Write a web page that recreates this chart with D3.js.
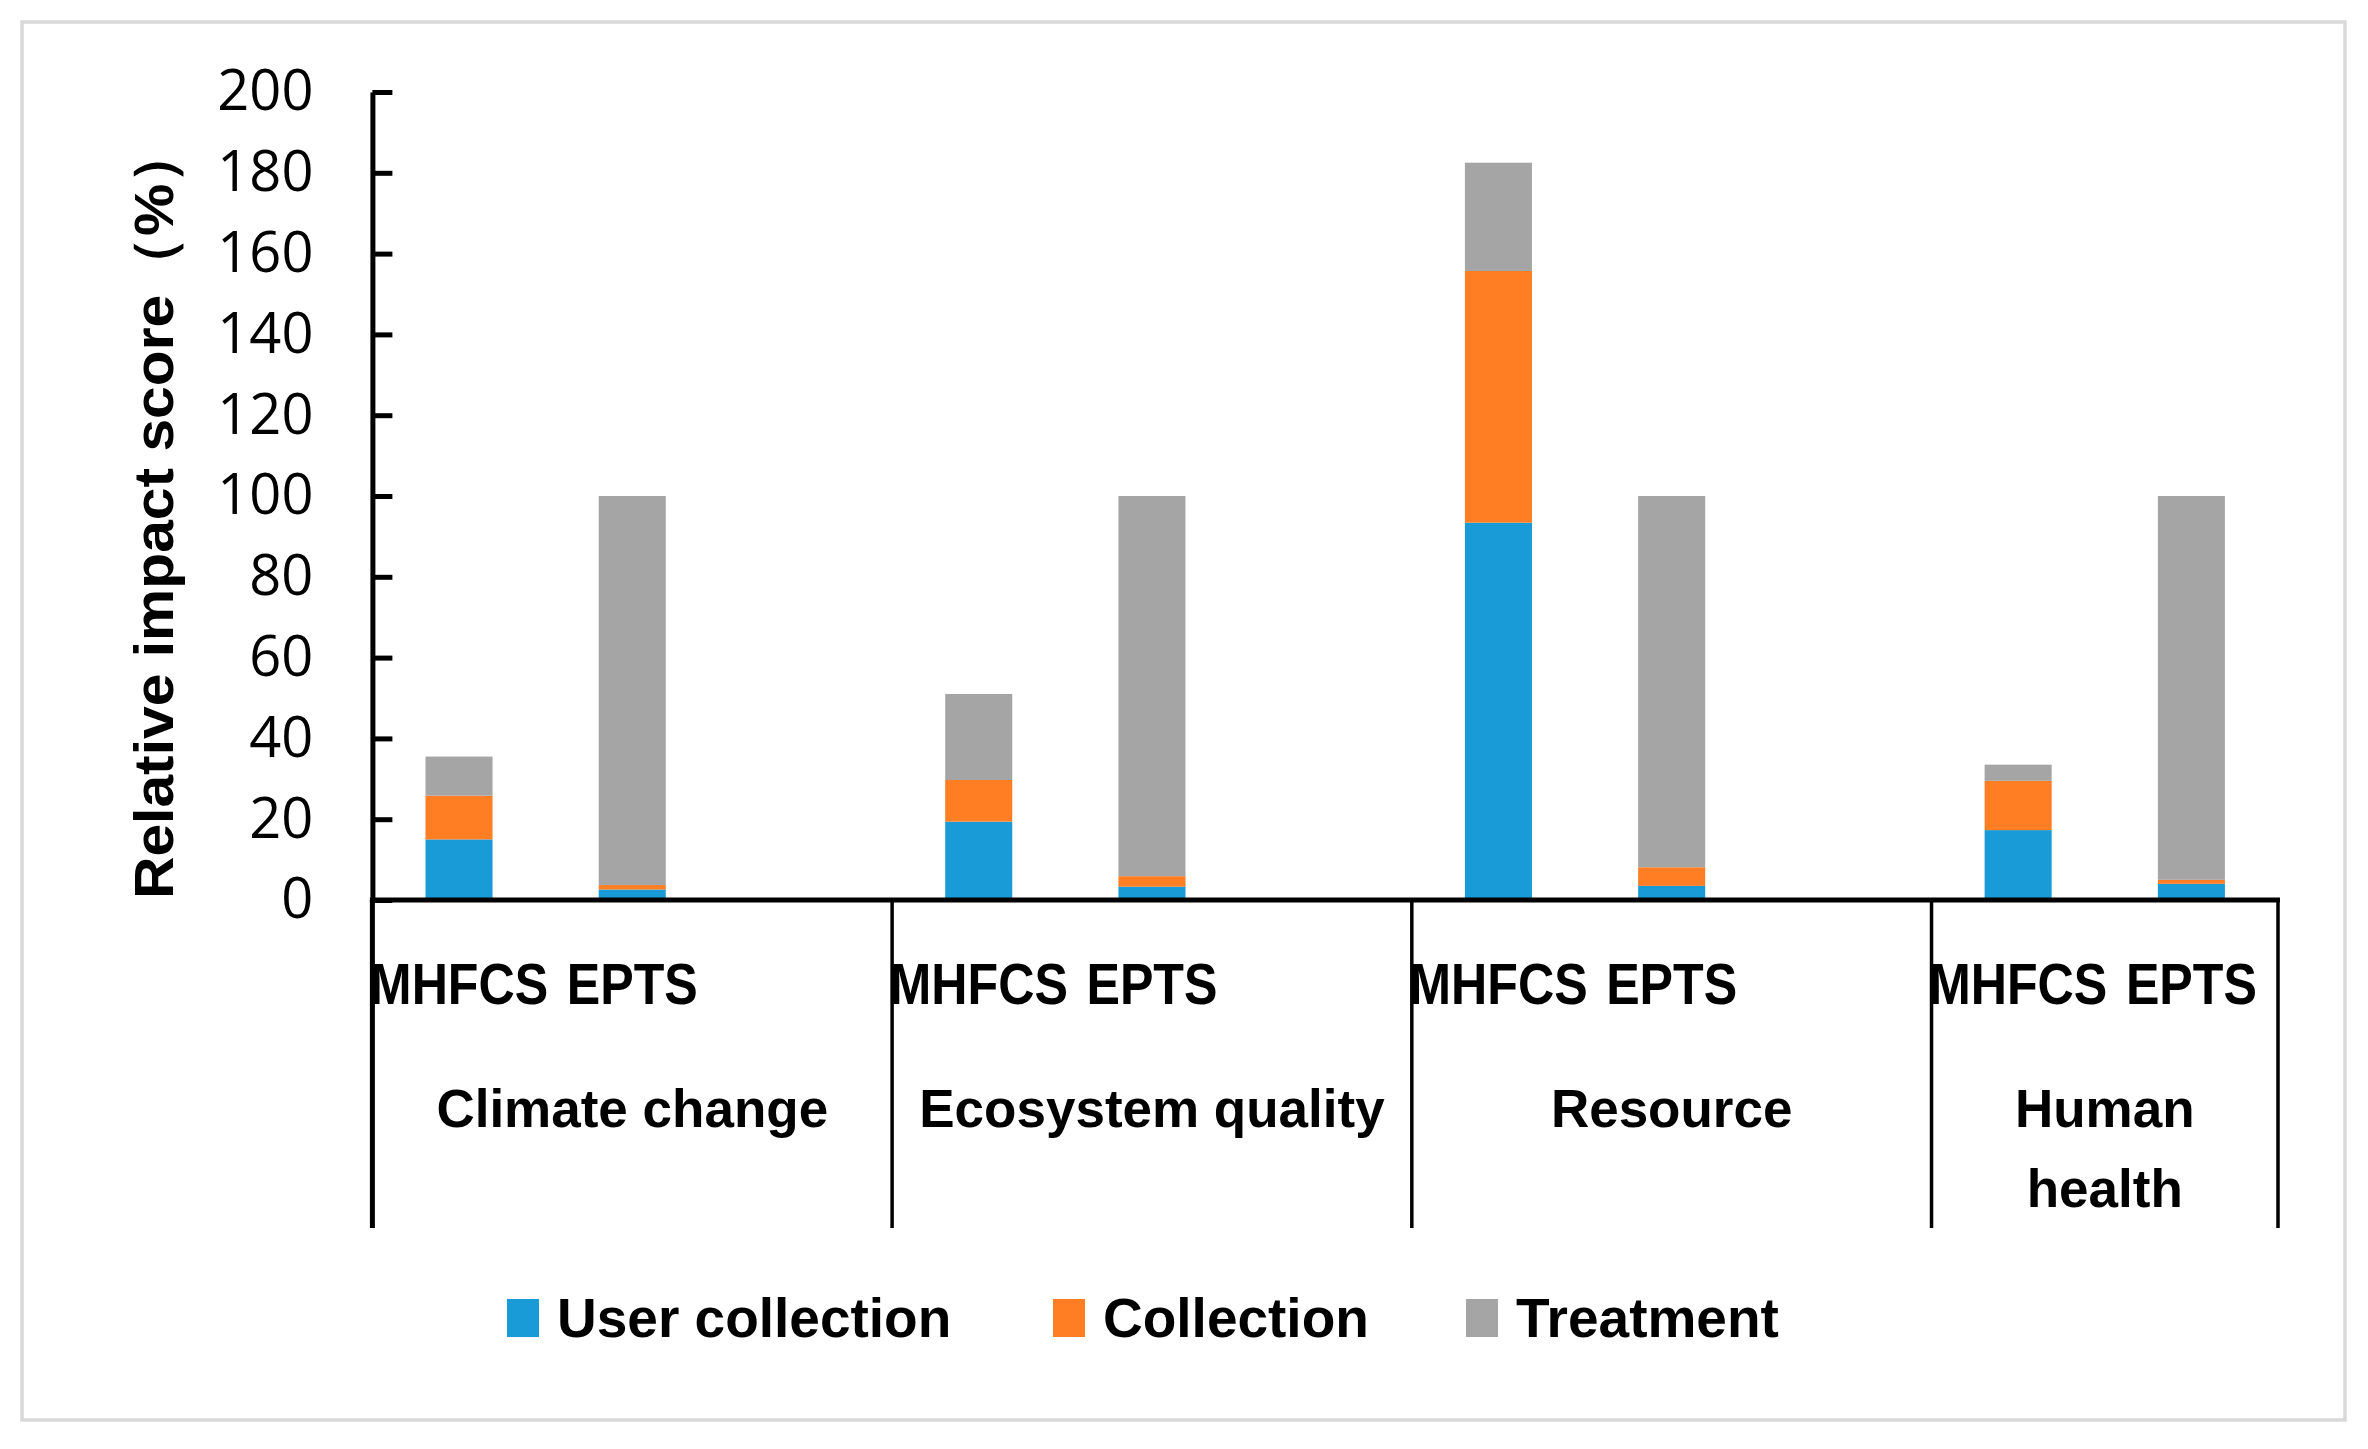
<!DOCTYPE html>
<html><head><meta charset="utf-8">
<script src="https://cdn.jsdelivr.net/npm/d3@7"></script>
<style>body{margin:0;background:#fff}svg{display:block}</style>
</head><body>
<svg id="c" width="2368" height="1449"></svg>
<script>
const groups = ["Climate change", "Ecosystem quality", "Resource", "Human health"];
const systems = ["MHFCS", "EPTS"];
const seriesNames = ["User collection", "Collection", "Treatment"];
const seriesColors = ["#189BD6", "#FF7D23", "#A5A5A5"];
// values per group: [MHFCS, EPTS]
const userCollection = [[15.0, 2.6], [19.4, 3.3], [93.4, 3.5], [17.3, 4.0]];
const collection     = [[10.8, 1.1], [10.3, 2.6], [62.3, 4.6], [12.2, 1.0]];
const treatment      = [[9.7, 96.3], [21.3, 94.1], [26.8, 91.9], [4.0, 95.0]];
const yTicks = [0, 20, 40, 60, 80, 100, 120, 140, 160, 180, 200];

const svg = d3.select("#c");
const axisFont = "'Open Sans', sans-serif";
const boldFont = "'Liberation Sans', Arial, sans-serif";

// outer border
svg.append("rect").attr("x", 22).attr("y", 22).attr("width", 2323).attr("height", 1398)
  .attr("fill", "#fff").attr("stroke", "#d9d9d9").attr("stroke-width", 3.5);

const left = 372.4, right = 2278, yBase = 900, yTop = 92, sepBottom = 1228;

// slots: MHFCS, EPTS, blank for each group (last group without blank)
const slots = [];
groups.forEach((g, gi) => {
  systems.forEach(s => slots.push(gi + "|" + s));
  if (gi < groups.length - 1) slots.push(gi + "|blank");
});
const x = d3.scaleBand().domain(slots).range([left, right]).paddingInner(0).paddingOuter(0);
const y = d3.scaleLinear().domain([0, 200]).range([yBase, yTop]);
const barW = x.bandwidth() * 0.387;

// stacked data
const rows = [];
groups.forEach((g, gi) => systems.forEach((s, si) => {
  rows.push({key: gi + "|" + s, u: userCollection[gi][si], c: collection[gi][si], t: treatment[gi][si]});
}));
const stack = d3.stack().keys(["u", "c", "t"])(rows);

svg.append("g").selectAll("g").data(stack).join("g")
  .attr("fill", (d, i) => seriesColors[i])
  .selectAll("rect").data(d => d).join("rect")
  .attr("x", d => x(d.data.key) + x.bandwidth() / 2 - barW / 2)
  .attr("width", barW)
  .attr("y", d => y(d[1]))
  .attr("height", d => y(d[0]) - y(d[1]));

// y axis
const yAxis = d3.axisLeft(y).tickValues(yTicks).tickSizeInner(-20).tickSizeOuter(0).tickPadding(59);
const ga = svg.append("g").attr("transform", `translate(${left},0)`).call(yAxis);
ga.select(".domain").attr("stroke", "#000").attr("stroke-width", 5);
ga.selectAll(".tick line").attr("stroke", "#000").attr("stroke-width", 5);
ga.selectAll(".tick text").attr("font-family", axisFont).attr("font-size", 56).attr("fill", "#000");

// x axis baseline and group separators
svg.append("line").attr("x1", left - 2.5).attr("x2", right + 2).attr("y1", yBase).attr("y2", yBase)
  .attr("stroke", "#000").attr("stroke-width", 5);
const sepXs = [left];
groups.forEach((g, gi) => {
  const last = gi === groups.length - 1;
  const endKey = last ? gi + "|EPTS" : gi + "|blank";
  sepXs.push(x(endKey) + x.bandwidth());
});
svg.append("g").selectAll("line").data(sepXs).join("line")
  .attr("x1", d => d).attr("x2", d => d).attr("y1", yBase).attr("y2", sepBottom)
  .attr("stroke", "#000").attr("stroke-width", (d, i) => i === 0 ? 5 : 3.5);

// system labels (condensed)
svg.append("g").selectAll("text").data(rows).join("text")
  .attr("x", d => x(d.key) + x.bandwidth() / 2)
  .attr("y", 1004)
  .attr("text-anchor", "middle")
  .attr("font-family", boldFont).attr("font-weight", "bold").attr("font-size", 57)
  .text(d => d.key.split("|")[1])
  .each(function() {
    const len = this.getComputedTextLength();
    d3.select(this).attr("textLength", len * 0.88).attr("lengthAdjust", "spacingAndGlyphs");
  });

// group labels
groups.forEach((g, gi) => {
  const cx = (sepXs[gi] + sepXs[gi + 1]) / 2;
  const lines = g === "Human health" ? ["Human", "health"] : [g];
  lines.forEach((ln, li) => {
    svg.append("text").attr("x", cx).attr("y", 1127 + li * 80)
      .attr("text-anchor", "middle")
      .attr("font-family", boldFont).attr("font-weight", "bold").attr("font-size", 53)
      .text(ln);
  });
});

// y label
svg.append("text")
  .attr("transform", "translate(173,512) rotate(-90)")
  .attr("text-anchor", "middle")
  .attr("font-family", boldFont).attr("font-weight", "bold").attr("font-size", 56)
  .attr("textLength", 774).attr("lengthAdjust", "spacingAndGlyphs")
  .text("Relative impact score（%）");

// legend
const legendX = [507, 1053, 1466];
const lg = svg.append("g").selectAll("g").data(seriesNames).join("g")
  .attr("transform", (d, i) => `translate(${legendX[i]},0)`);
lg.append("rect").attr("x", 0).attr("y", 1299).attr("width", 32).attr("height", 38)
  .attr("fill", (d, i) => seriesColors[i]);
lg.append("text").attr("x", 50).attr("y", 1337)
  .attr("font-family", boldFont).attr("font-weight", "bold").attr("font-size", 55)
  .text(d => d);
</script>
</body></html>
